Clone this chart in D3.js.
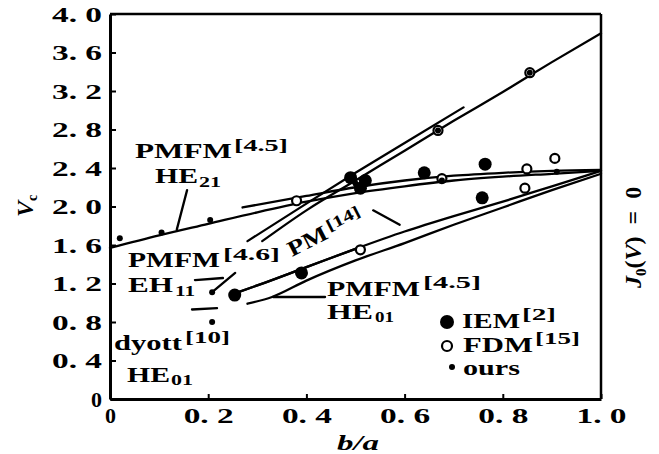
<!DOCTYPE html>
<html lang="en">
<head>
<meta charset="UTF-8" />
<title>Ve vs b/a</title>
<style>
  html, body { margin: 0; padding: 0; background: #fff; }
  svg { display: block; }
  text { font-family: "Liberation Serif", "DejaVu Serif", serif; font-weight: bold; fill: #000; }
  .curve { fill: none; stroke: #000; stroke-width: 2.3; stroke-linejoin: round; stroke-linecap: round; }
</style>
</head>
<body>
<svg width="659" height="454"></svg>
<script src="https://d3js.org/d3.v7.min.js"></script>
<script>
// axis ticks
const xTicks = [0, 0.2, 0.4, 0.6, 0.8, 1.0];
const xTickLabels = ["0", "0. 2", "0. 4", "0. 6", "0. 8", "1. 0"];
const yTicks = [0, 0.4, 0.8, 1.2, 1.6, 2.0, 2.4, 2.8, 3.2, 3.6, 4.0];
const yTickLabels = ["0", "0. 4", "0. 8", "1. 2", "1. 6", "2. 0", "2. 4", "2. 8", "3. 2", "3. 6", "4. 0"];

// curves [b/a, Vc]
const he21Pmfm = [[0,1.57],[0.1,1.70],[0.2,1.82],[0.3,1.94],[0.4,2.05],[0.5,2.14],[0.6,2.21],[0.7,2.27],[0.8,2.31],[0.9,2.34],[1.0,2.37]];
const he21Pm = [[0.27,1.99],[0.4,2.11],[0.5,2.20],[0.6,2.27],[0.7,2.32],[0.8,2.35],[0.9,2.37],[1.0,2.38]];
const eh11Pmfm = [[0.31,1.64],[0.4,1.96],[0.5,2.27],[0.6,2.58],[0.7,2.89],[0.8,3.19],[0.9,3.50],[1.0,3.80]];
const eh11Pm = [[0.28,1.64],[0.4,2.03],[0.5,2.35],[0.6,2.66],[0.72,3.03]];
const he01Iem = [[0.25,1.09],[0.3,1.18],[0.4,1.37],[0.5,1.56],[0.6,1.74],[0.7,1.90],[0.8,2.05],[0.9,2.21],[1.0,2.37]];
const he01Pmfm = [[0.28,0.99],[0.33,1.06],[0.4,1.23],[0.5,1.44],[0.6,1.62],[0.7,1.81],[0.8,1.99],[0.9,2.17],[1.0,2.34]];
const eh11Short = [[0.208,1.11],[0.255,1.31]];
const dyottShort = [[0.167,0.93],[0.218,0.945]];

// data points
const iemPoints = [[0.254,1.08],[0.39,1.31],[0.49,2.30],[0.51,2.19],[0.52,2.27],[0.64,2.35],[0.764,2.44],[0.758,2.09]];
const fdmPoints = [[0.38,2.06],[0.51,1.55],[0.668,2.79],[0.676,2.29],[0.845,2.19],[0.849,2.39],[0.855,3.39],[0.906,2.50]];
const oursPoints = [[0.02,1.67],[0.105,1.73],[0.204,1.86],[0.208,1.11],[0.208,0.80],[0.5,2.24],[0.668,2.79],[0.855,3.39],[0.91,2.36],[0.676,2.27]];

// leader lines for the labels
const leaders = [
  [[0.157,2.17],[0.136,1.76]],
  [[0.173,1.236],[0.23,1.257]],
  [[0.332,1.06],[0.438,1.06]],
  [[0.536,1.96],[0.59,1.81]]
];

const svg = d3.select("svg");
const x = d3.scaleLinear().domain([0, 1]).range([110, 601]);
const y = d3.scaleLinear().domain([0, 4]).range([399, 14]);

// axes
const gx = svg.append("g")
  .attr("transform", `translate(0,${y(0)})`)
  .call(d3.axisBottom(x).tickValues(xTicks).tickSize(-5).tickSizeOuter(0).tickPadding(8)
    .tickFormat((d, i) => xTickLabels[i]));
const gy = svg.append("g")
  .attr("transform", `translate(${x(0)},0)`)
  .call(d3.axisLeft(y).tickValues(yTicks).tickSize(-6).tickSizeOuter(0).tickPadding(8)
    .tickFormat((d, i) => yTickLabels[i]));

[gx, gy].forEach(g => {
  g.select(".domain").attr("stroke", "#000").attr("stroke-width", 3);
  g.selectAll(".tick line").attr("stroke", "#000").attr("stroke-width", 2);
  g.selectAll(".tick text")
    .attr("font-family", null).attr("font-size", null)
    .style("font-size", "22px")
    .each(function() {
      const t = d3.select(this);
      if (t.text().length > 1) t.attr("textLength", 50).attr("lengthAdjust", "spacingAndGlyphs");
    });
});

// frame top and right
svg.append("line").attr("x1", x(0)).attr("x2", x(1)).attr("y1", y(4)).attr("y2", y(4))
  .attr("stroke", "#000").attr("stroke-width", 2.5);
svg.append("line").attr("x1", x(1)).attr("x2", x(1)).attr("y1", y(4)).attr("y2", y(0))
  .attr("stroke", "#000").attr("stroke-width", 2.5);

const line = d3.line().x(d => x(d[0])).y(d => y(d[1])).curve(d3.curveMonotoneX);
const straight = d3.line().x(d => x(d[0])).y(d => y(d[1]));

const plot = svg.append("g");
[he21Pmfm, he21Pm, eh11Pmfm, eh11Pm, he01Iem, he01Pmfm].forEach(c => {
  plot.append("path").attr("class", "curve").attr("d", line(c));
});
// heavy start of the IEM HE01 curve
plot.append("path").attr("class", "curve").attr("stroke-width", 6)
  .attr("d", line(he01Iem.filter(d => d[0] <= 0.52)));
[eh11Short, dyottShort].concat(leaders).forEach(c => {
  plot.append("path").attr("class", "curve").attr("stroke-width", 1.8).attr("d", straight(c));
});

plot.selectAll(".iem").data(iemPoints).join("circle")
  .attr("cx", d => x(d[0])).attr("cy", d => y(d[1])).attr("r", 6.5).attr("fill", "#000");
plot.selectAll(".fdm").data(fdmPoints).join("circle")
  .attr("cx", d => x(d[0])).attr("cy", d => y(d[1])).attr("r", 4.5)
  .attr("fill", "#fff").attr("stroke", "#000").attr("stroke-width", 2.2);
plot.selectAll(".ours").data(oursPoints).join("circle")
  .attr("cx", d => x(d[0])).attr("cy", d => y(d[1])).attr("r", 3).attr("fill", "#000");

// text helper
function txt(px, py, s, size, width) {
  const t = svg.append("text").attr("x", px).attr("y", py).style("font-size", size + "px").text(s);
  if (width) t.attr("textLength", width).attr("lengthAdjust", "spacingAndGlyphs");
  return t;
}

txt(135, 158, "PMFM", 22, 97);
txt(234, 151, "[4.5]", 16, 54);
txt(155, 183, "HE", 22, 43);
txt(199, 187, "21", 15, 22);

txt(128, 267, "PMFM", 22, 92);
txt(223, 260, "[4.6]", 16, 57);
txt(128, 292, "EH", 22, 45);
txt(175, 296, "11", 15, 20);

const pm = svg.append("g").attr("transform", "translate(292,257) rotate(-27)");
pm.append("text").attr("x", 0).attr("y", 0).style("font-size", "22px")
  .attr("textLength", 42).attr("lengthAdjust", "spacingAndGlyphs").text("PM");
pm.append("text").attr("x", 45).attr("y", -6).style("font-size", "16px")
  .attr("textLength", 36).attr("lengthAdjust", "spacingAndGlyphs").text("[14]");

txt(327, 296, "PMFM", 21, 93);
txt(423, 288, "[4.5]", 16, 58);
txt(327, 319, "HE", 21, 46);
txt(375, 322, "01", 15, 19);

txt(114, 350, "dyott", 22, 68);
txt(185, 343, "[10]", 16, 45);
txt(127, 382, "HE", 22, 43);
txt(171, 385, "01", 15, 22);

// legend
svg.append("circle").attr("cx", 447).attr("cy", 322).attr("r", 7).attr("fill", "#000");
txt(462, 328, "IEM", 22, 58);
txt(522, 320, "[2]", 16, 34);
svg.append("circle").attr("cx", 447).attr("cy", 346).attr("r", 5)
  .attr("fill", "#fff").attr("stroke", "#000").attr("stroke-width", 2.2);
txt(463, 352, "FDM", 22, 70);
txt(535, 344, "[15]", 16, 45);
svg.append("circle").attr("cx", 452).attr("cy", 367).attr("r", 3).attr("fill", "#000");
txt(463, 375, "ours", 22, 57);

// axis titles
const ba = txt(337, 450, "b/a", 22, 42);
ba.style("font-style", "italic");

const vc = svg.append("text").attr("transform", "translate(33,217) rotate(-90)").style("font-size", "24px");
vc.append("tspan").style("font-style", "italic").text("V");
vc.append("tspan").attr("dy", 4).style("font-size", "14px").text("c");

const jv = svg.append("text").attr("transform", "translate(641,288) rotate(-90)")
  .style("font-size", "24px");
jv.append("tspan").style("font-style", "italic").text("J");
jv.append("tspan").attr("dy", 5).style("font-size", "15px").text("0");
jv.append("tspan").attr("dy", -5).text("(");
jv.append("tspan").style("font-style", "italic").text("V");
jv.append("tspan").text(")\u00a0\u00a0=\u00a0\u00a00");
</script>
</body>
</html>
